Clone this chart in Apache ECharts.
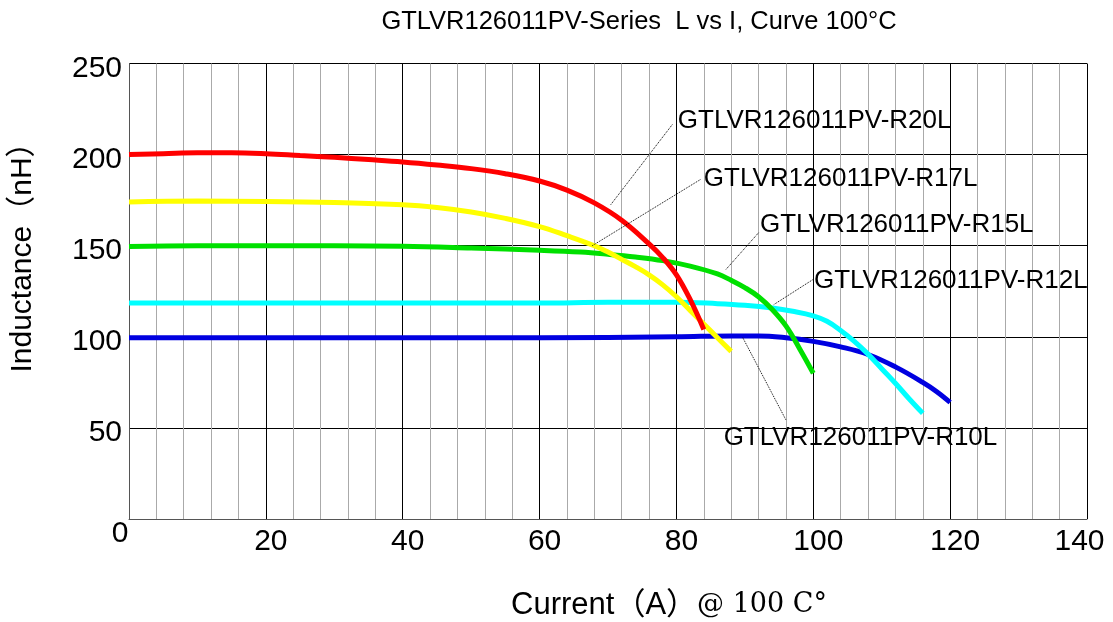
<!DOCTYPE html>
<html>
<head>
<meta charset="utf-8">
<script src="https://cdn.jsdelivr.net/npm/echarts@6/dist/echarts.min.js"></script>
<style>
html,body{margin:0;padding:0;background:#fff;}
#chart{width:1113px;height:622px;}
</style>
</head>
<body>
<div id="chart"></div>
<script>
// ---- data (Current A, Inductance nH) ----
const xTicks = [0, 20, 40, 60, 80, 100, 120, 140];
const yTicks = [0, 50, 100, 150, 200, 250];

const seriesNames = ['GTLVR126011PV-R20L','GTLVR126011PV-R17L','GTLVR126011PV-R15L','GTLVR126011PV-R12L','GTLVR126011PV-R10L'];

const r20L = [[0,200],[5,200.5],[10,201],[15,201],[20,200.5],[25,199.5],[30,198.5],[35,197.3],[40,196],[45,194.3],[50,192.3],[55,189.5],[60,185.5],[64,180.5],[68,173.5],[72,164],[76,151],[78,143.5],[80,134],[82,120.5],[84,104]];
const r17L = [[0,174],[10,174.5],[20,174.3],[30,173.7],[40,172.5],[45,171],[50,168.5],[55,165],[60,160.5],[64,155.5],[68,150],[70,146.5],[72,142.5],[74,138.5],[76,134],[78,128.5],[80,122],[82,114.5],[84,107],[86,99.5],[88,92]];
const r15L = [[0,149.5],[10,150],[20,150],[30,150],[40,149.7],[50,148.7],[60,147.5],[66,146.5],[70,145.3],[74,143.8],[78,141.8],[82,138.8],[86,134.5],[88,131],[90,127],[92,122],[94,115],[96,106],[98,93.5],[100,80]];
const r12L = [[0,118.5],[20,118.5],[40,118.5],[60,118.5],[70,119],[80,119],[86,118.2],[90,117.3],[94,115.8],[97,114],[100,111.5],[102,108.5],[104,103.5],[106,97.5],[108,90.5],[110,82.5],[112,74.5],[114,66],[116,58]];
const r10L = [[0,99.5],[20,99.5],[40,99.5],[60,99.5],[80,100],[88,100.5],[92,100.5],[96,99.5],[100,97.5],[104,94.5],[108,90.3],[112,83.5],[116,75],[118,70],[120,64]];

// annotation label anchors and leader lines (data coordinates)
const labelAnchors = [[80.2,218.5],[84.0,186.5],[92.2,161.5],[100.1,130.5],[86.9,44.5]];
const leaderLines = [
  [[79.4,216.5],[70.4,172.5]],
  [[83.5,186.3],[67.7,150]],
  [[92.0,157.1],[87.2,136.8]],
  [[99.9,131.3],[94.2,117.6]],
  [[89.7,99.5],[96.0,54.4]]
];

const allData = [r20L, r17L, r15L, r12L, r10L];
const colors = ['#ff0000','#ffff00','#00e000','#00ffff','#0000e0'];

const chart = echarts.init(document.getElementById('chart'));

const series = [];
// draw order: blue, cyan, green, yellow, red (last on top)
[4,3,2,1,0].forEach(function(i){
  series.push({
    name: seriesNames[i],
    type: 'line',
    data: allData[i],
    smooth: 0.4,
    symbol: 'none',
    lineStyle: {color: colors[i], width: 5},
    z: 3,
    markLine: {
      silent: true,
      symbol: ['none','none'],
      label: {show: false},
      lineStyle: {color: '#000', type: 'dotted', width: 1},
      data: [[{coord: leaderLines[i][0]},{coord: leaderLines[i][1]}]],
      animation: false
    },
    markPoint: {
      silent: true,
      symbol: 'circle',
      symbolSize: 0,
      data: [{coord: labelAnchors[i], name: seriesNames[i]}],
      label: {
        show: true, position: 'right', distance: 0,
        formatter: seriesNames[i],
        color: '#000', fontSize: 26, fontFamily: 'Liberation Sans, Arial, sans-serif'
      },
      animation: false
    }
  });
});

chart.setOption({
  animation: false,
  backgroundColor: '#fff',
  title: {
    text: 'GTLVR126011PV-Series  L vs I, Curve 100°C',
    left: 634, top: 4, textAlign: 'center',
    textStyle: {fontSize: 25.5, fontWeight: 'normal', color: '#000', fontFamily: 'Liberation Sans, Arial, sans-serif'}
  },
  grid: {left: 129, right: 26, top: 63.5, bottom: 103, containLabel: false, outerBoundsMode: 'none'},
  xAxis: {
    type: 'value', min: xTicks[0], max: xTicks[xTicks.length-1], interval: 20,
    axisLine: {show: true, lineStyle: {color: '#555', width: 1}},
    axisTick: {show: false},
    axisLabel: {
      margin: 0,
      color: '#000', fontSize: 30, fontFamily: 'Liberation Sans, Arial, sans-serif',
      formatter: function(v){
        if (v === 0) return '{z|0}';
        if (v === 140) return '{e|140}';
        return '{n|' + v + '}';
      },
      rich: {
        z: {fontSize: 30, padding: [0,18,0,0], color: '#000'},
        n: {fontSize: 30, padding: [8,0,0,10], color: '#000'},
        e: {fontSize: 30, padding: [8,15,0,0], color: '#000'}
      }
    },
    splitLine: {show: true, lineStyle: {color: '#000', width: 1}},
    minorTick: {show: false, splitNumber: 5},
    minorSplitLine: {show: true, lineStyle: {color: '#aaaaaa', width: 1}}
  },
  yAxis: {
    type: 'value', min: yTicks[0], max: yTicks[yTicks.length-1], interval: 50,
    axisLine: {show: true, lineStyle: {color: '#555', width: 1}},
    axisTick: {show: false},
    axisLabel: {
      margin: 7, color: '#000', fontSize: 30, fontFamily: 'Liberation Sans, Arial, sans-serif',
      formatter: function(v){ return v === 0 ? '' : '{y|' + v + '}'; },
      rich: {y: {fontSize: 30, padding: [10,0,0,0], color: '#000'}}
    },
    splitLine: {show: true, lineStyle: {color: '#000', width: 1}}
  },
  graphic: [
    {
      type: 'text', x: 23, y: 250, rotation: Math.PI/2,
      style: {
        text: 'Inductance（nH）',
        font: '30px "Liberation Sans", "Noto Sans CJK SC", sans-serif',
        fill: '#000', align: 'center', verticalAlign: 'middle'
      }
    },
    {
      type: 'text', x: 669, y: 605,
      style: {
        text: '{a|Current（A）}{b|@ 100 C°}',
        fill: '#000', align: 'center', verticalAlign: 'middle',
        rich: {
          a: {fontSize: 31, fontFamily: '"Liberation Sans", "Noto Sans CJK SC", sans-serif', fill: '#000'},
          b: {fontSize: 27, fontFamily: '"DejaVu Serif", "Liberation Serif", serif', fill: '#000'}
        }
      }
    }
  ],
  series: series
});
</script>
</body>
</html>
